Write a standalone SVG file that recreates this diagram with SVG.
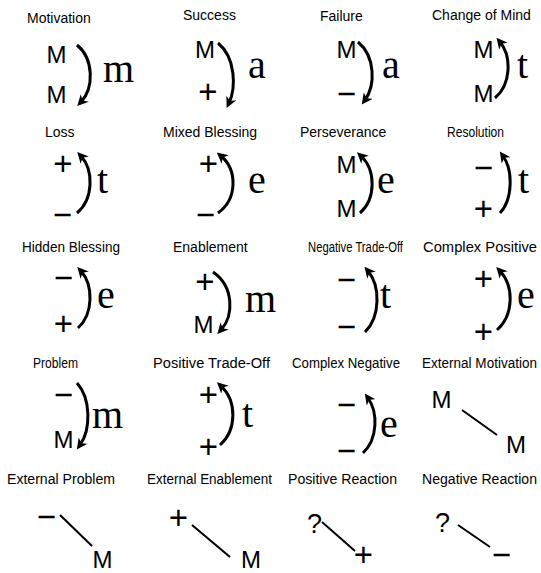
<svg xmlns="http://www.w3.org/2000/svg" width="541" height="573" viewBox="0 0 541 573">
<style>
.t{font-family:"Liberation Sans",Arial,sans-serif;font-size:14px;fill:#000}
.s{font-family:"Liberation Sans",Arial,sans-serif;font-size:24px;fill:#000;text-anchor:middle}
.p{font-family:"Liberation Sans",Arial,sans-serif;font-size:33px;fill:#000;text-anchor:middle}
.q{font-family:"Liberation Sans",Arial,sans-serif;font-size:27px;fill:#000;text-anchor:middle}
.l{font-family:"Liberation Serif","Times New Roman",serif;font-size:40px;fill:#000}
.a{fill:none;stroke:#000;stroke-width:3;marker-end:url(#ah)}
.ln{fill:none;stroke:#000;stroke-width:2}
</style>
<defs>
<marker id="ah" viewBox="0 0 10 10" refX="5" refY="5" markerWidth="11" markerHeight="11" markerUnits="userSpaceOnUse" orient="auto">
<path d="M0,0 L10,5 L0,10 L3,5 z" fill="#000"/>
</marker>
</defs>
<rect width="541" height="573" fill="#fff"/>

<g id="motivation"><text class="t" x="27" y="23">Motivation</text><text class="s" x="56.5" y="63">M</text><text class="s" x="56.5" y="103">M</text><text class="l" x="103" y="82">m</text></g>
<g id="success"><text class="t" x="183" y="20">Success</text><text class="s" x="205" y="58">M</text><text class="p" x="208" y="103">+</text><text class="l" x="248" y="78">a</text></g>
<g id="failure"><text class="t" x="320" y="21">Failure</text><text class="s" x="346.5" y="58">M</text><text class="p" x="346.5" y="105">−</text><text class="l" x="382" y="78">a</text></g>
<g id="change-of-mind"><text class="t" x="432" y="20">Change of Mind</text><text class="s" x="483.5" y="58">M</text><text class="s" x="483.5" y="102">M</text><text class="l" x="517" y="78">t</text></g>

<g id="loss"><text class="t" x="45" y="137">Loss</text><text class="p" x="63" y="175">+</text><text class="p" x="62.5" y="226">−</text><text class="l" x="97" y="193">t</text></g>
<g id="mixed-blessing"><text class="t" x="163" y="137">Mixed Blessing</text><text class="p" x="208.5" y="175">+</text><text class="p" x="205.5" y="226">−</text><text class="l" x="248" y="193">e</text></g>
<g id="perseverance"><text class="t" x="300" y="137">Perseverance</text><text class="s" x="346.5" y="173">M</text><text class="s" x="346.5" y="217">M</text><text class="l" x="377" y="193">e</text></g>
<g id="resolution"><text class="t" x="447" y="137" textLength="57" lengthAdjust="spacingAndGlyphs">Resolution</text><text class="p" x="483.5" y="179">−</text><text class="p" x="483.5" y="220">+</text><text class="l" x="518" y="193">t</text></g>

<g id="hidden-blessing"><text class="t" x="22" y="252" textLength="98" lengthAdjust="spacingAndGlyphs">Hidden Blessing</text><text class="p" x="63.5" y="289">−</text><text class="p" x="63.5" y="335">+</text><text class="l" x="97" y="308">e</text></g>
<g id="enablement"><text class="t" x="173" y="252">Enablement</text><text class="p" x="205" y="293">+</text><text class="s" x="203.5" y="333">M</text><text class="l" x="245" y="312">m</text></g>
<g id="negative-trade-off"><text class="t" x="308" y="252" textLength="95" lengthAdjust="spacingAndGlyphs">Negative Trade-Off</text><text class="p" x="346.5" y="291">−</text><text class="p" x="346.5" y="338">−</text><text class="l" x="380" y="308">t</text></g>
<g id="complex-positive"><text class="t" x="423" y="252" textLength="114" lengthAdjust="spacingAndGlyphs">Complex Positive</text><text class="p" x="483.5" y="290">+</text><text class="p" x="483.5" y="343">+</text><text class="l" x="517" y="308">e</text></g>

<g id="problem"><text class="t" x="33" y="368" textLength="45" lengthAdjust="spacingAndGlyphs">Problem</text><text class="p" x="63.5" y="406">−</text><text class="s" x="63.5" y="448">M</text><text class="l" x="92" y="428">m</text></g>
<g id="positive-trade-off"><text class="t" x="153" y="368" textLength="117" lengthAdjust="spacingAndGlyphs">Positive Trade-Off</text><text class="p" x="208.5" y="406">+</text><text class="p" x="208.5" y="458">+</text><text class="l" x="242" y="427">t</text></g>
<g id="complex-negative"><text class="t" x="292" y="368" textLength="108" lengthAdjust="spacingAndGlyphs">Complex Negative</text><text class="p" x="346.5" y="416">−</text><text class="p" x="346.5" y="462">−</text><text class="l" x="380" y="437">e</text></g>
<g id="external-motivation"><text class="t" x="422" y="368" textLength="115" lengthAdjust="spacingAndGlyphs">External Motivation</text><text class="s" x="441.5" y="408">M</text><text class="s" x="516" y="453">M</text></g>

<g id="external-problem"><text class="t" x="7" y="484" textLength="108" lengthAdjust="spacingAndGlyphs">External Problem</text><text class="p" x="46.5" y="528">−</text><text class="s" x="102.5" y="568">M</text></g>
<g id="external-enablement"><text class="t" x="147" y="484" textLength="125" lengthAdjust="spacingAndGlyphs">External Enablement</text><text class="p" x="178.5" y="529">+</text><text class="s" x="251" y="568">M</text></g>
<g id="positive-reaction"><text class="t" x="288" y="484" textLength="109" lengthAdjust="spacingAndGlyphs">Positive Reaction</text><text class="q" x="314.5" y="533">?</text><text class="p" x="363.5" y="566">+</text></g>
<g id="negative-reaction"><text class="t" x="422" y="484" textLength="115" lengthAdjust="spacingAndGlyphs">Negative Reaction</text><text class="q" x="442.5" y="532">?</text><text class="p" x="501.5" y="566">−</text></g>

<g id="connectors">
<path class="a" d="M77,45 C94,59 94,88 81,102"/>
<path class="a" d="M218,43 C236,58 236,88 229,103"/>
<path class="a" d="M358,42 C375.5,56.5 375.5,85.5 365,100"/>
<path class="a" d="M495,98 C511.5,84 511.5,56 500,42"/>
<path class="a" d="M77,213 C93.7,199 93.7,170 81,156"/>
<path class="a" d="M218,213 C237.5,199 237.5,170 221,156"/>
<path class="a" d="M360,213 C376,199 376,170 361,156"/>
<path class="a" d="M500,213 C513,199 513,170 503,156"/>
<path class="a" d="M78,328 C93.5,314 93.5,285 81,271"/>
<path class="a" d="M213,272 C234,286.5 234,315.5 221,330"/>
<path class="a" d="M365,332 C380.5,317 380.5,286 368,271"/>
<path class="a" d="M497,330 C514,315 514,286 500,271"/>
<path class="a" d="M77,383 C91,398.5 91,429.5 80,445"/>
<path class="a" d="M220,445 C237,430 237,401 221,386"/>
<path class="a" d="M363,453 C378,439 378,412 368,398"/>
<line class="ln" x1="462" y1="410" x2="497" y2="435"/>
<line class="ln" x1="60" y1="515" x2="92" y2="546"/>
<line class="ln" x1="192" y1="525" x2="230" y2="557"/>
<line class="ln" x1="322" y1="522" x2="355" y2="551"/>
<line class="ln" x1="458" y1="525" x2="490" y2="547"/>
</g>
</svg>
